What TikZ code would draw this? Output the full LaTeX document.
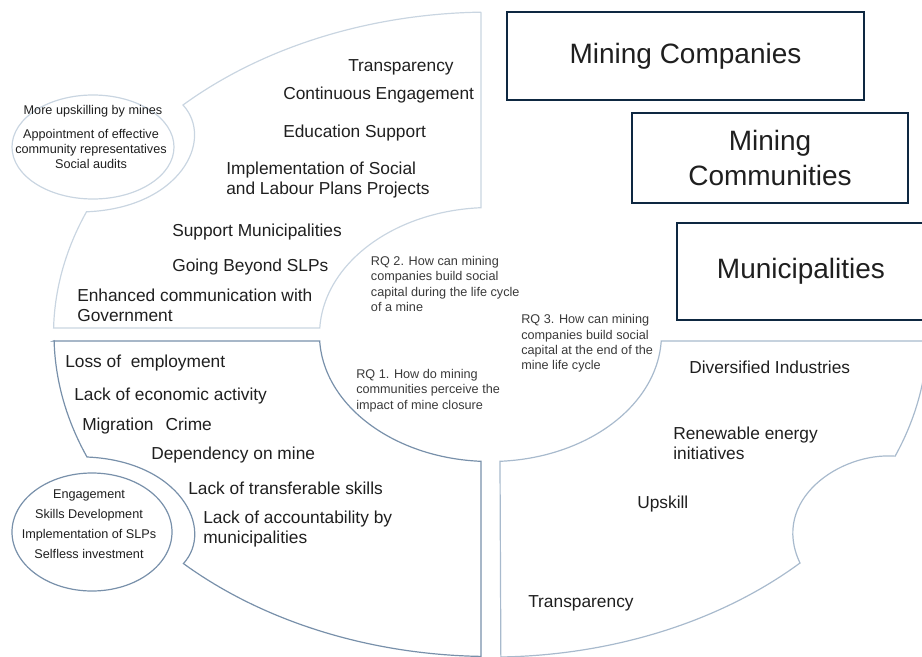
\documentclass[tikz,border=0pt]{standalone}
\usepackage{fontspec}
\setmainfont{Liberation Sans}
\usepackage{tikz}

\definecolor{navy}{HTML}{0E2841}
\definecolor{pale}{HTML}{C9D5E1}
\definecolor{slate}{HTML}{7890AA}
\definecolor{steel}{HTML}{A8BACD}
\definecolor{ink}{HTML}{1F1F1F}
\definecolor{greyink}{HTML}{3A3A3A}

\begin{document}
\begin{tikzpicture}[x=0.75pt, y=-0.75pt,
box_style/.style={draw=navy, line width=1.5pt, text=ink, align=center, font=\fontsize{21}{26}\selectfont},
item_style/.style={anchor=west, inner sep=0pt, text=ink, align=left, font=\fontsize{13}{15}\selectfont},
rq_style/.style={anchor=west, inner sep=0pt, text=greyink, align=left, font=\fontsize{9.5}{11.5}\selectfont},
note_style/.style={inner sep=0pt, text=ink, align=center, font=\fontsize{9.5}{11.25}\selectfont},
piece_style/.style={line width=0.9pt, line join=miter},
inner_arc/.style={x radius=128.25pt, y radius=95.25pt},
outer_arc/.style={x radius=327.75pt, y radius=241.5pt}]
\useasboundingbox (0,0) rectangle (922,657);

% upper left piece
\draw[piece_style, draw=pale] (481,12.6) -- (481,207.7)
  arc[start angle=93.2, end angle=177.07, inner_arc] -- (53.6,328)
  arc[start angle=178.84, end angle=157.6, outer_arc]
  .. controls (180,208) and (215,140) .. (183,105)
  arc[start angle=134.65, end angle=91.25, outer_arc] -- cycle;

% lower left piece
\draw[piece_style, draw=slate] (53.6,341) -- (319.7,341)
  arc[start angle=-177.07, end angle=-93.2, inner_arc] -- (481,656.4)
  arc[start angle=-91.25, end angle=-134.65, outer_arc]
  .. controls (215,529) and (180,461) .. (87,457)
  arc[start angle=-157.6, end angle=-178.84, outer_arc] -- cycle;

% lower right piece
\draw[piece_style, draw=steel] (661.3,341) -- (927.4,341)
  arc[start angle=-1.16, end angle=-22.2, outer_arc]
  .. controls (840,452) and (770,500) .. (800,563)
  arc[start angle=-45.06, end angle=-88.75, outer_arc] -- (500,461.3)
  arc[start angle=-86.8, end angle=-2.93, inner_arc] -- cycle;

% side ellipses
\draw[piece_style, draw=pale] (93,147) ellipse [x radius=60.75pt, y radius=39pt];
\draw[piece_style, draw=slate] (92,532) ellipse [x radius=60pt, y radius=44.25pt];

% stakeholder boxes
\node[box_style, minimum width=267.75pt, minimum height=66pt] (companies) at (685.5,56.4) {Mining Companies};
\node[box_style, minimum width=207pt, minimum height=67.5pt] (communities) at (770,158) {Mining\\Communities};
\node[box_style, minimum width=186pt, minimum height=72.75pt] (municipalities) at (801,271.5) {Municipalities};

% during the life of the mine
\node[item_style] (transparency_a) at (348,67) {Transparency};
\node[item_style] (engagement) at (283,95) {Continuous Engagement};
\node[item_style] (education) at (283,133) {Education Support};
\node[item_style] (slp_projects) at (226,180) {Implementation of Social\\and Labour Plans Projects};
\node[item_style] (support) at (172,232) {Support Municipalities};
\node[item_style] (beyond) at (172,267) {Going Beyond SLPs};
\node[item_style] (government) at (77,305) {Enhanced communication with\\Government};

% perceived impact of closure
\node[item_style] (employment) at (65,363) {Loss of\ \ employment};
\node[item_style] (economic) at (74,396) {Lack of economic activity};
\node[item_style] (migration) at (82,426) {Migration\hspace{0.7em}Crime};
\node[item_style] (dependency) at (151,455) {Dependency on mine};
\node[item_style] (skills) at (188,488) {Lack of transferable skills};
\node[item_style] (accountability) at (203,529) {Lack of accountability by\\municipalities};

% end of the mine life cycle
\node[item_style] (diversified) at (689,367) {Diversified Industries};
\node[item_style] (renewable) at (673,443) {Renewable energy\\initiatives};
\node[item_style] (upskill) at (637,504) {Upskill};
\node[item_style] (transparency_b) at (528,603) {Transparency};

% research questions
\node[rq_style] (rq2) at (370.7,284) {RQ 2. How can mining\\companies build social\\capital during the life cycle\\of a mine};
\node[rq_style] (rq1) at (356,390.5) {RQ 1. How do mining\\communities perceive the\\impact of mine closure};
\node[rq_style] (rq3) at (521,343.5) {RQ 3. How can mining\\companies build social\\capital at the end of the\\mine life cycle};

% ellipse notes
\node[note_style] (upskilling) at (93,111) {More upskilling by mines};
\node[note_style] (representatives) at (91,149) {Appointment of effective\\community representatives\\Social audits};
\node[note_style, font=\fontsize{9.5}{15}\selectfont] (closure_notes) at (89,524) {Engagement\\Skills Development\\Implementation of SLPs\\Selfless investment};

\end{tikzpicture}
\end{document}
